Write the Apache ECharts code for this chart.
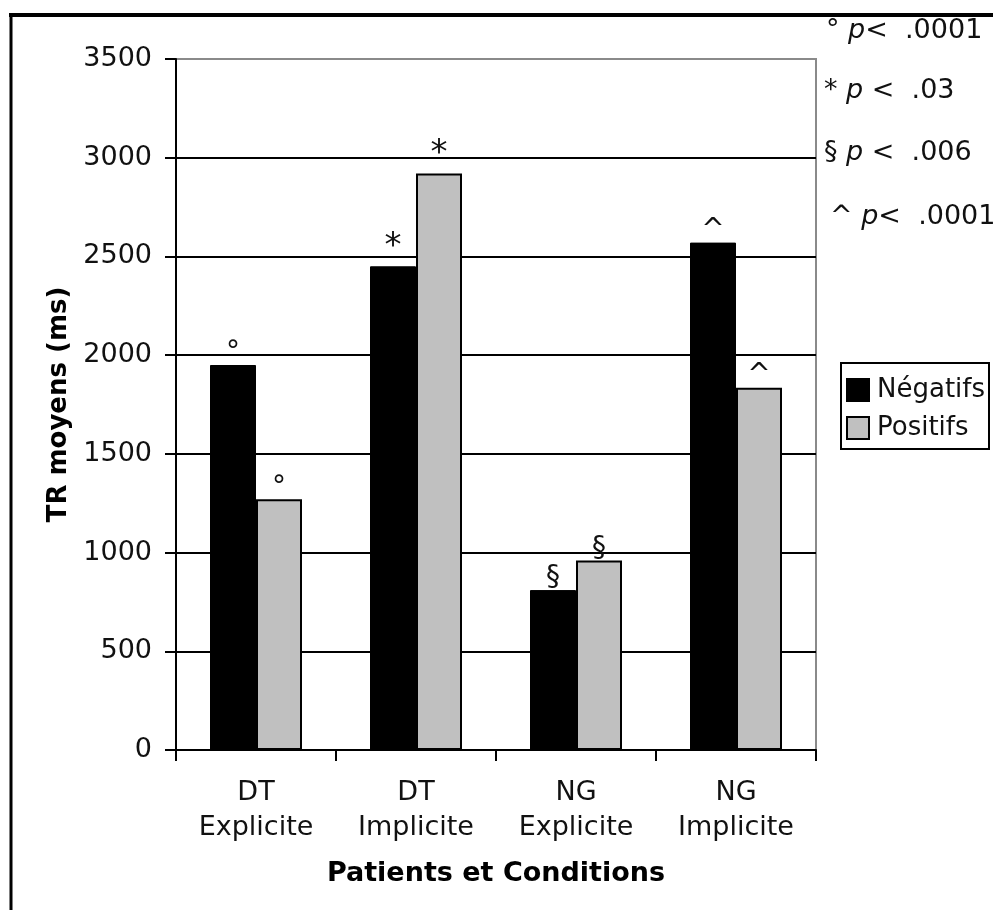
<!DOCTYPE html>
<html>
<head>
<meta charset="utf-8">
<title>TR moyens</title>
<script src="https://cdn.jsdelivr.net/npm/echarts@6/dist/echarts.min.js"></script>
<style>
  html, body { margin: 0; padding: 0; background: #fff; }
  #chart { width: 993px; height: 910px; }
</style>
</head>
<body>
<div id="chart"></div>
<script>
// Mean response times per patient and condition
const categories = ['DT\nExplicite', 'DT\nImplicite', 'NG\nExplicite', 'NG\nImplicite'];
const negatifs = [1950, 2450, 810, 2570];
const positifs = [1270, 2920, 960, 1835];
// Significance marker drawn above each pair of bars
const markers = ['°', '*', '§', '^'];
// Significance notes shown at the top right
const noteSymbols = ['°', '*', '§', '^'];
const noteOps = ['<', ' <', ' <', '<'];
const noteValues = ['.0001', '.03', '.006', '.0001'];

const yMin = 0, yMax = 3500, yStep = 500;
const FONT = 'DejaVu Sans, Verdana, sans-serif';
const FS = 27;

const chart = echarts.init(document.getElementById('chart'));

const noteTops = [17, 77, 139, 203];
const noteLefts = [826, 824, 824, 830];

const notes = noteSymbols.map((s, i) => ({
  type: 'text',
  left: noteLefts[i],
  top: noteTops[i],
  style: {
    text: s + ' {p|p}' + noteOps[i] + '  ' + noteValues[i],
    font: FS + 'px ' + FONT,
    fill: '#111',
    rich: {
      p: { fontStyle: 'italic', fontSize: FS, fontFamily: FONT, fill: '#111' }
    }
  }
}));

// The asterisk glyph is drawn a little larger than the other markers
const markerLabel = {
  show: true, position: 'top', distance: -2,
  formatter: p => markers[p.dataIndex] === '*' ? '{star|*}' : markers[p.dataIndex],
  fontSize: 28, fontFamily: FONT, color: '#111',
  rich: {
    star: { fontSize: 34, fontFamily: FONT, color: '#111', padding: [0, 0, 4, 0] }
  }
};

chart.setOption({
  backgroundColor: '#fff',
  animation: false,
  grid: {
    left: 176, right: 177, top: 59, bottom: 160,
    show: true, borderColor: '#8a8a8a', borderWidth: 2, backgroundColor: 'transparent'
  },
  legend: {
    left: 841, top: 363,
    orient: 'vertical',
    itemWidth: 22, itemHeight: 22, itemGap: 12,
    padding: [14, 4, 8, 5],
    borderColor: '#000', borderWidth: 2,
    icon: 'rect',
    textStyle: { fontSize: 26, fontFamily: FONT, color: '#111', padding: [0, 0, 0, 3] },
    data: ['Négatifs', 'Positifs']
  },
  xAxis: {
    type: 'category',
    data: categories,
    name: 'Patients et Conditions',
    nameLocation: 'middle',
    nameGap: 110,
    nameTextStyle: { fontSize: FS, fontWeight: 'bold', fontFamily: FONT, color: '#000' },
    axisLine: { lineStyle: { color: '#000', width: 2 } },
    axisTick: { show: true, length: 11, lineStyle: { color: '#000', width: 2 } },
    axisLabel: { fontSize: FS, fontFamily: FONT, color: '#111', lineHeight: 35, margin: 25 }
  },
  yAxis: {
    type: 'value',
    min: yMin, max: yMax, interval: yStep,
    name: 'TR moyens (ms)',
    nameLocation: 'middle',
    nameGap: 103,
    nameTextStyle: { fontSize: FS - 1, fontWeight: 'bold', fontFamily: FONT, color: '#000' },
    axisLine: { show: true, lineStyle: { color: '#000', width: 2 } },
    axisTick: { show: true, length: 11, lineStyle: { color: '#000', width: 2 } },
    axisLabel: { fontSize: FS, fontFamily: FONT, color: '#111', margin: 24, formatter: v => String(v) },
    splitLine: {
      show: true,
      lineStyle: { color: ['#000', '#000', '#000', '#000', '#000', '#000', '#000', '#8a8a8a'], width: 2 }
    }
  },
  series: [
    {
      name: 'Négatifs',
      type: 'bar',
      data: negatifs,
      barWidth: 46,
      barGap: '0%',
      itemStyle: { color: '#000', borderColor: '#000', borderWidth: 1 },
      label: markerLabel
    },
    {
      name: 'Positifs',
      type: 'bar',
      data: positifs,
      barWidth: 46,
      itemStyle: { color: '#c0c0c0', borderColor: '#000', borderWidth: 2 },
      label: markerLabel
    }
  ],
  graphic: [
    { type: 'line', shape: { x1: 9, y1: 15, x2: 993, y2: 15 }, style: { stroke: '#000', lineWidth: 4 } },
    { type: 'line', shape: { x1: 11, y1: 13, x2: 11, y2: 910 }, style: { stroke: '#000', lineWidth: 3 } }
  ].concat(notes)
});
</script>
</body>
</html>
